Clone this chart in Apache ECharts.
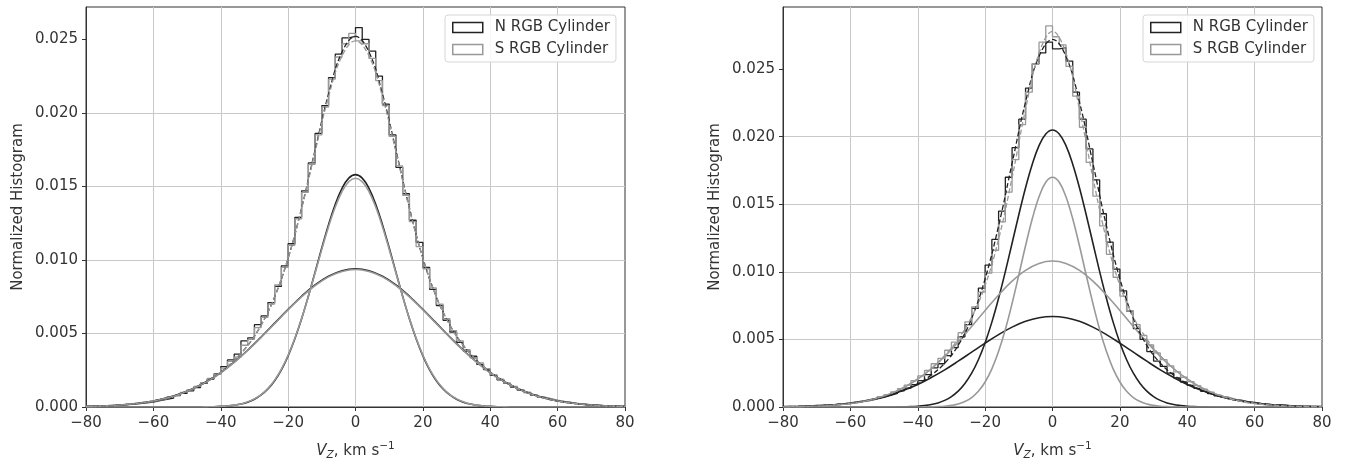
<!DOCTYPE html>
<html><head><meta charset="utf-8">
<script src="https://cdn.jsdelivr.net/npm/echarts@6/dist/echarts.min.js"></script>
<style>html,body{margin:0;padding:0;background:#fff;} #c{width:1349px;height:464px;}</style>
</head><body><div id="c"></div>
<script>
// ---------- data ----------
const xTicks = [-80,-60,-40,-20,0,20,40,60,80];
const yTicks = [0,0.005,0.010,0.015,0.020,0.025];
const legendNames = ['N RGB Cylinder','S RGB Cylinder'];
const yMaxLeft = 0.0272, yMaxRight = 0.0296;

// histogram bin edges (km/s)
const binEdges = [-80,-78,-76,-74,-72,-70,-68,-66,-64,-62,-60,-58,-56,-54,-52,-50,-48,-46,-44,-42,-40,-38,-36,-34,-32,-30,-28,-26,-24,-22,-20,-18,-16,-14,-12,-10,-8,-6,-4,-2,0,2,4,6,8,10,12,14,16,18,20,22,24,26,28,30,32,34,36,38,40,42,44,46,48,50,52,54,56,58,60,62,64,66,68,70,72,74,76,78,80];

const leftHistN = [0.00005,0.00004,0.00008,0.00010,0.00012,0.00016,0.00018,0.00023,0.00028,0.00034,0.00044,0.00052,0.00060,0.00078,0.00092,0.00110,0.00132,0.00160,0.00190,0.00225,0.00275,0.00320,0.00360,0.00450,0.00470,0.00560,0.00620,0.00710,0.00820,0.00960,0.01110,0.01290,0.01470,0.01660,0.01860,0.02050,0.02240,0.02400,0.02510,0.02520,
0.02580,0.02500,0.02420,0.02250,0.02060,0.01850,0.01630,0.01450,0.01270,0.01120,0.00950,0.00800,0.00690,0.00590,0.00510,0.00440,0.00380,0.00345,0.00290,0.00255,0.00215,0.00185,0.00160,0.00135,0.00115,0.00100,0.00080,0.00066,0.00056,0.00045,0.00036,0.00031,0.00023,0.00020,0.00014,0.00012,0.00010,0.00006,0.00005,0.00003];
const leftHistS = [0.00003,0.00006,0.00007,0.00009,0.00013,0.00015,0.00020,0.00025,0.00030,0.00036,0.00047,0.00055,0.00070,0.00082,0.00100,0.00118,0.00140,0.00165,0.00195,0.00222,0.00265,0.00310,0.00340,0.00420,0.00460,0.00540,0.00610,0.00700,0.00830,0.00950,0.01100,0.01280,0.01460,0.01650,0.01850,0.02040,0.02230,0.02380,0.02470,0.02540,
0.02490,0.02470,0.02370,0.02220,0.02050,0.01840,0.01640,0.01440,0.01260,0.01090,0.00940,0.00810,0.00700,0.00600,0.00520,0.00450,0.00390,0.00335,0.00300,0.00260,0.00220,0.00190,0.00162,0.00140,0.00118,0.00097,0.00083,0.00068,0.00057,0.00046,0.00038,0.00030,0.00025,0.00019,0.00016,0.00011,0.00009,0.00007,0.00005,0.00004];
const rightHistN = [0.00004,0.00003,0.00006,0.00007,0.00009,0.00010,0.00015,0.00016,0.00022,0.00026,0.00035,0.00041,0.00050,0.00060,0.00072,0.00086,0.00100,0.00120,0.00140,0.00165,0.00195,0.00240,0.00290,0.00320,0.00380,0.00440,0.00520,0.00610,0.00730,0.00880,0.01050,0.01240,0.01450,0.01700,0.01920,0.02130,0.02360,0.02540,0.02620,0.02700,
0.02650,0.02660,0.02560,0.02330,0.02130,0.01910,0.01680,0.01430,0.01220,0.01020,0.00860,0.00710,0.00580,0.00500,0.00410,0.00340,0.00300,0.00250,0.00215,0.00185,0.00160,0.00138,0.00115,0.00100,0.00082,0.00071,0.00057,0.00050,0.00040,0.00034,0.00026,0.00022,0.00016,0.00015,0.00010,0.00009,0.00006,0.00005,0.00004,0.00002];
const rightHistS = [0.00003,0.00002,0.00004,0.00005,0.00006,0.00009,0.00011,0.00015,0.00019,0.00025,0.00030,0.00040,0.00048,0.00060,0.00076,0.00092,0.00112,0.00135,0.00162,0.00195,0.00230,0.00270,0.00320,0.00360,0.00420,0.00480,0.00550,0.00630,0.00740,0.00850,0.00990,0.01160,0.01370,0.01590,0.01830,0.02090,0.02330,0.02540,0.02700,0.02820,
0.02740,0.02680,0.02520,0.02300,0.02070,0.01810,0.01560,0.01340,0.01130,0.00960,0.00820,0.00710,0.00610,0.00530,0.00460,0.00400,0.00350,0.00305,0.00260,0.00220,0.00188,0.00158,0.00132,0.00110,0.00090,0.00074,0.00060,0.00047,0.00038,0.00030,0.00023,0.00018,0.00014,0.00010,0.00008,0.00006,0.00004,0.00003,0.00002,0.00002];

// wide components and totals, sampled every 4 km/s
const curveX = [-80,-76,-72,-68,-64,-60,-56,-52,-48,-44,-40,-36,-32,-28,-24,-20,-16,-12,-8,-4,0,4,8,12,16,20,24,28,32,36,40,44,48,52,56,60,64,68,72,76,80];
// narrow components, sampled every 2 km/s
const fineX = [-80,-78,-76,-74,-72,-70,-68,-66,-64,-62,-60,-58,-56,-54,-52,-50,-48,-46,-44,-42,-40,-38,-36,-34,-32,-30,-28,-26,-24,-22,-20,-18,-16,-14,-12,-10,-8,-6,-4,-2,0,2,4,6,8,10,12,14,16,18,20,22,24,26,28,30,32,34,36,38,40,42,44,46,48,50,52,54,56,58,60,62,64,66,68,70,72,74,76,78,80];

const leftNarrowN = [0,0,0,0,0,0,0,0,0,0,0,0,0,0,0,0,0,0,
0.00001,0.00002,0.00004,0.00007,0.00012,0.00020,0.00033,0.00053,0.00082,0.00123,0.00179,0.00253,0.00348,0.00464,0.00600,0.00753,0.00917,0.01083,0.01240,0.01379,0.01487,0.01556,
0.0158,
0.01556,0.01487,0.01379,0.01240,0.01083,0.00917,0.00753,0.00600,0.00464,0.00348,0.00253,0.00179,0.00123,0.00082,0.00053,0.00033,0.00020,0.00012,0.00007,0.00004,0.00002,0.00001,
0,0,0,0,0,0,0,0,0,0,0,0,0,0,0,0,0,0];
const leftNarrowS = [0,0,0,0,0,0,0,0,0,0,0,0,0,0,0,0,0,0,
0.00001,0.00002,0.00004,0.00007,0.00013,0.00021,0.00035,0.00055,0.00084,0.00126,0.00183,0.00257,0.00352,0.00467,0.00601,0.00751,0.00911,0.01072,0.01226,0.0136,0.01465,0.01532,
0.01555,
0.01532,0.01465,0.0136,0.01226,0.01072,0.00911,0.00751,0.00601,0.00467,0.00352,0.00257,0.00183,0.00126,0.00084,0.00055,0.00035,0.00021,0.00013,0.00007,0.00004,0.00002,0.00001,
0,0,0,0,0,0,0,0,0,0,0,0,0,0,0,0,0,0];
const leftWideN = [0.00004,0.00006,0.00010,0.00017,0.00027,0.00041,0.00062,0.00090,0.00127,0.00175,0.00234,0.00305,0.00386,0.00476,0.00570,0.00664,0.00753,0.00830,0.00889,0.00927,0.0094,0.00927,0.00889,0.00830,0.00753,0.00664,0.00570,0.00476,0.00386,0.00305,0.00234,0.00175,0.00127,0.00090,0.00062,0.00041,0.00027,0.00017,0.00010,0.00006,0.00004];
const leftWideS = [0.00004,0.00006,0.00010,0.00017,0.00027,0.00041,0.00061,0.00089,0.00127,0.00174,0.00233,0.00304,0.00384,0.00473,0.00567,0.00661,0.00749,0.00825,0.00885,0.00922,0.00935,0.00922,0.00885,0.00825,0.00749,0.00661,0.00567,0.00473,0.00384,0.00304,0.00233,0.00174,0.00127,0.00089,0.00061,0.00041,0.00027,0.00017,0.00010,0.00006,0.00004];
const leftTotalN = [0.00004,0.00006,0.00010,0.00017,0.00027,0.00041,0.00062,0.00090,0.00127,0.00176,0.00238,0.00317,0.00419,0.00558,0.00749,0.01012,0.01353,0.01747,0.02129,0.02414,0.0252,0.02414,0.02129,0.01747,0.01353,0.01012,0.00749,0.00558,0.00419,0.00317,0.00238,0.00176,0.00127,0.00090,0.00062,0.00041,0.00027,0.00017,0.00010,0.00006,0.00004];
const leftTotalS = [0.00004,0.00006,0.00010,0.00017,0.00027,0.00041,0.00061,0.00089,0.00127,0.00175,0.00237,0.00317,0.00419,0.00557,0.0075,0.01013,0.0135,0.01736,0.02111,0.02387,0.0249,0.02387,0.02111,0.01736,0.0135,0.01013,0.0075,0.00557,0.00419,0.00317,0.00237,0.00175,0.00127,0.00089,0.00061,0.00041,0.00027,0.00017,0.00010,0.00006,0.00004];

const rightNarrowN = [0,0,0,0,0,0,0,0,0,0,0,0,0,0,0,0,0,
0.00001,0.00002,0.00003,0.00006,0.00011,0.00018,0.0003,0.00049,0.00077,0.00117,0.00174,0.0025,0.0035,0.00476,0.00628,0.00805,0.01002,0.01212,0.01423,0.01623,0.01797,0.01934,0.0202,
0.0205,
0.0202,0.01934,0.01797,0.01623,0.01423,0.01212,0.01002,0.00805,0.00628,0.00476,0.0035,0.0025,0.00174,0.00117,0.00077,0.00049,0.0003,0.00018,0.00011,0.00006,0.00003,0.00002,0.00001,
0,0,0,0,0,0,0,0,0,0,0,0,0,0,0,0,0];
const rightWideN = [0.00003,0.00004,0.00007,0.00012,0.00019,0.00029,0.00044,0.00064,0.00091,0.00125,0.00167,0.00218,0.00275,0.00339,0.00406,0.00473,0.00536,0.00591,0.00634,0.00661,0.0067,0.00661,0.00634,0.00591,0.00536,0.00473,0.00406,0.00339,0.00275,0.00218,0.00167,0.00125,0.00091,0.00064,0.00044,0.00029,0.00019,0.00012,0.00007,0.00004,0.00003];
const rightNarrowS = [0,0,0,0,0,0,0,0,0,0,0,0,0,0,0,0,0,0,0,0,0,
0.00001,0.00001,0.00003,0.00006,0.00012,0.00022,0.0004,0.0007,0.00116,0.00185,0.00282,0.00412,0.00574,0.00766,0.00977,0.01193,0.01393,0.01556,0.01663,
0.017,
0.01663,0.01556,0.01393,0.01193,0.00977,0.00766,0.00574,0.00412,0.00282,0.00185,0.00116,0.0007,0.0004,0.00022,0.00012,0.00006,0.00003,0.00001,0.00001,
0,0,0,0,0,0,0,0,0,0,0,0,0,0,0,0,0,0,0,0,0];
const rightWideS = [0.00001,0.00003,0.00005,0.00009,0.00016,0.00026,0.00042,0.00066,0.00100,0.00146,0.00207,0.00283,0.00375,0.00481,0.00596,0.00714,0.00829,0.00931,0.01011,0.01062,0.0108,0.01062,0.01011,0.00931,0.00829,0.00714,0.00596,0.00481,0.00375,0.00283,0.00207,0.00146,0.00100,0.00066,0.00042,0.00026,0.00016,0.00009,0.00005,0.00003,0.00001];
const rightTotalN = [0.00003,0.00004,0.00007,0.00012,0.00019,0.00029,0.00044,0.00064,0.00091,0.00127,0.00173,0.00236,0.00324,0.00456,0.00656,0.00949,0.01341,0.01803,0.02257,0.02595,0.0272,0.02595,0.02257,0.01803,0.01341,0.00949,0.00656,0.00456,0.00324,0.00236,0.00173,0.00127,0.00091,0.00064,0.00044,0.00029,0.00019,0.00012,0.00007,0.00004,0.00003];
const rightTotalS = [0.00001,0.00003,0.00005,0.00009,0.00016,0.00026,0.00042,0.00066,0.00100,0.00146,0.00207,0.00284,0.00381,0.00503,0.00666,0.00899,0.01241,0.01697,0.02204,0.02618,0.0278,0.02618,0.02204,0.01697,0.01241,0.00899,0.00666,0.00503,0.00381,0.00284,0.00207,0.00146,0.00100,0.00066,0.00042,0.00026,0.00016,0.00009,0.00005,0.00003,0.00001];

// ---------- styling ----------
const COL_N = '#222222', COL_S = '#999999';
const FONT = 'DejaVu Sans';
const TXT = '#333333';
const FS = 15;

function histPoints(vals){
  const pts = [[binEdges[0], 0]];
  for (let i = 0; i < vals.length; i++) pts.push([binEdges[i], vals[i]]);
  pts.push([binEdges[binEdges.length-1], vals[vals.length-1]]);
  pts.push([binEdges[binEdges.length-1], 0]);
  return pts;
}
function pairs(xs, vals){ return xs.map((x,i)=>[x, vals[i]]); }

function xAxisFor(gi){
  return {
    type:'value', gridIndex:gi, min:xTicks[0], max:xTicks[xTicks.length-1], interval:20,
    axisLine:{show:true, onZero:false, lineStyle:{color:'#333', width:1}},
    axisTick:{show:true, length:4, lineStyle:{color:'#333', width:1}},
    axisLabel:{margin:9, fontSize:FS, color:TXT, fontFamily:FONT,
      formatter: v => String(v).replace('-', '\u2212')},
    splitLine:{show:true, showMinLine:false, showMaxLine:false, lineStyle:{color:'#c9c9c9', width:1}},
    name:'{v|V}{z|Z}{t|, km s}{e|\u22121}', nameLocation:'middle', nameGap:34,
    nameTextStyle:{fontFamily:FONT, color:TXT, rich:{
      v:{fontFamily:FONT, fontStyle:'italic', fontSize:FS, color:TXT, lineHeight:20},
      z:{fontFamily:FONT, fontStyle:'italic', fontSize:10.5, color:TXT, lineHeight:11, verticalAlign:'bottom'},
      t:{fontFamily:FONT, fontSize:FS, color:TXT, lineHeight:20},
      e:{fontFamily:FONT, fontSize:10.5, color:TXT, lineHeight:11, verticalAlign:'top'}
    }}
  };
}
function yAxisFor(gi, ymax){
  return {
    type:'value', gridIndex:gi, min:0, max:ymax, interval:0.005,
    axisLine:{show:true, onZero:false, lineStyle:{color:'#333', width:1}},
    axisTick:{show:true, length:4, customValues:yTicks, lineStyle:{color:'#333', width:1}},
    axisLabel:{margin:8, fontSize:FS, color:TXT, fontFamily:FONT, customValues:yTicks,
      formatter: v => v.toFixed(3)},
    splitLine:{show:true, showMinLine:false, showMaxLine:false, lineStyle:{color:'#c9c9c9', width:1}},
    name:'Normalized Histogram', nameLocation:'middle', nameGap:60,
    nameTextStyle:{fontFamily:FONT, fontSize:FS, color:TXT}
  };
}
function lineSeries(gi, name, data, color, opts){
  return Object.assign({
    type:'line', name:name, xAxisIndex:gi, yAxisIndex:gi, data:data,
    showSymbol:false, symbol:'none', silent:true, animation:false,
    lineStyle:{color:color, width:1.6}, itemStyle:{color:color}
  }, opts||{});
}
function panelSeries(gi, hN, hS, nN, wN, nS, wS, tN, tS){
  return [
    lineSeries(gi, legendNames[0], histPoints(hN), COL_N, {step:'end', lineStyle:{color:COL_N, width:1.3}}),
    lineSeries(gi, legendNames[1], histPoints(hS), COL_S, {step:'end', lineStyle:{color:COL_S, width:1.3}}),
    lineSeries(gi, 'N narrow', pairs(fineX, nN), COL_N, {smooth:0.4}),
    lineSeries(gi, 'N wide', pairs(curveX, wN), COL_N, {smooth:0.4}),
    lineSeries(gi, 'S narrow', pairs(fineX, nS), COL_S, {smooth:0.4}),
    lineSeries(gi, 'S wide', pairs(curveX, wS), COL_S, {smooth:0.4}),
    lineSeries(gi, 'N total', pairs(curveX, tN), COL_N, {smooth:0.4, lineStyle:{color:COL_N, width:1.3, type:[5,2.5]}}),
    lineSeries(gi, 'S total', pairs(curveX, tS), COL_S, {smooth:0.4, lineStyle:{color:COL_S, width:1.3, type:[5,2.5]}})
  ];
}
function legendFor(left){
  return {
    left:left, top:15, orient:'vertical', itemWidth:30, itemHeight:10, itemGap:7,
    padding:[5,6,5,7], backgroundColor:'rgba(255,255,255,0.85)', borderColor:'#d6d6d6', borderWidth:1, borderRadius:3,
    icon:'rect', selectedMode:false,
    textStyle:{fontFamily:FONT, fontSize:FS, color:TXT, padding:[0,0,0,7]},
    data:[
      {name:legendNames[0], icon:'rect', itemStyle:{color:'rgba(0,0,0,0)', borderColor:COL_N, borderWidth:1.5}},
      {name:legendNames[1], icon:'rect', itemStyle:{color:'rgba(0,0,0,0)', borderColor:COL_S, borderWidth:1.5}}
    ]
  };
}

const chart = echarts.init(document.getElementById('c'), null, {renderer:'canvas'});
chart.setOption({
  animation:false,
  backgroundColor:'#ffffff',
  grid:[
    {left:86, top:7, width:539, height:400, show:true, outerBoundsMode:'none', containLabel:false, borderColor:'#333', borderWidth:1, backgroundColor:'transparent'},
    {left:783, top:7, width:539, height:400, show:true, outerBoundsMode:'none', containLabel:false, borderColor:'#333', borderWidth:1, backgroundColor:'transparent'}
  ],
  xAxis:[xAxisFor(0), xAxisFor(1)],
  yAxis:[yAxisFor(0, yMaxLeft), yAxisFor(1, yMaxRight)],
  legend:[legendFor(445), legendFor(1143)],
  series: [].concat(
    panelSeries(0, leftHistN, leftHistS, leftNarrowN, leftWideN, leftNarrowS, leftWideS, leftTotalN, leftTotalS),
    panelSeries(1, rightHistN, rightHistS, rightNarrowN, rightWideN, rightNarrowS, rightWideS, rightTotalN, rightTotalS)
  )
});
</script>
</body></html>
